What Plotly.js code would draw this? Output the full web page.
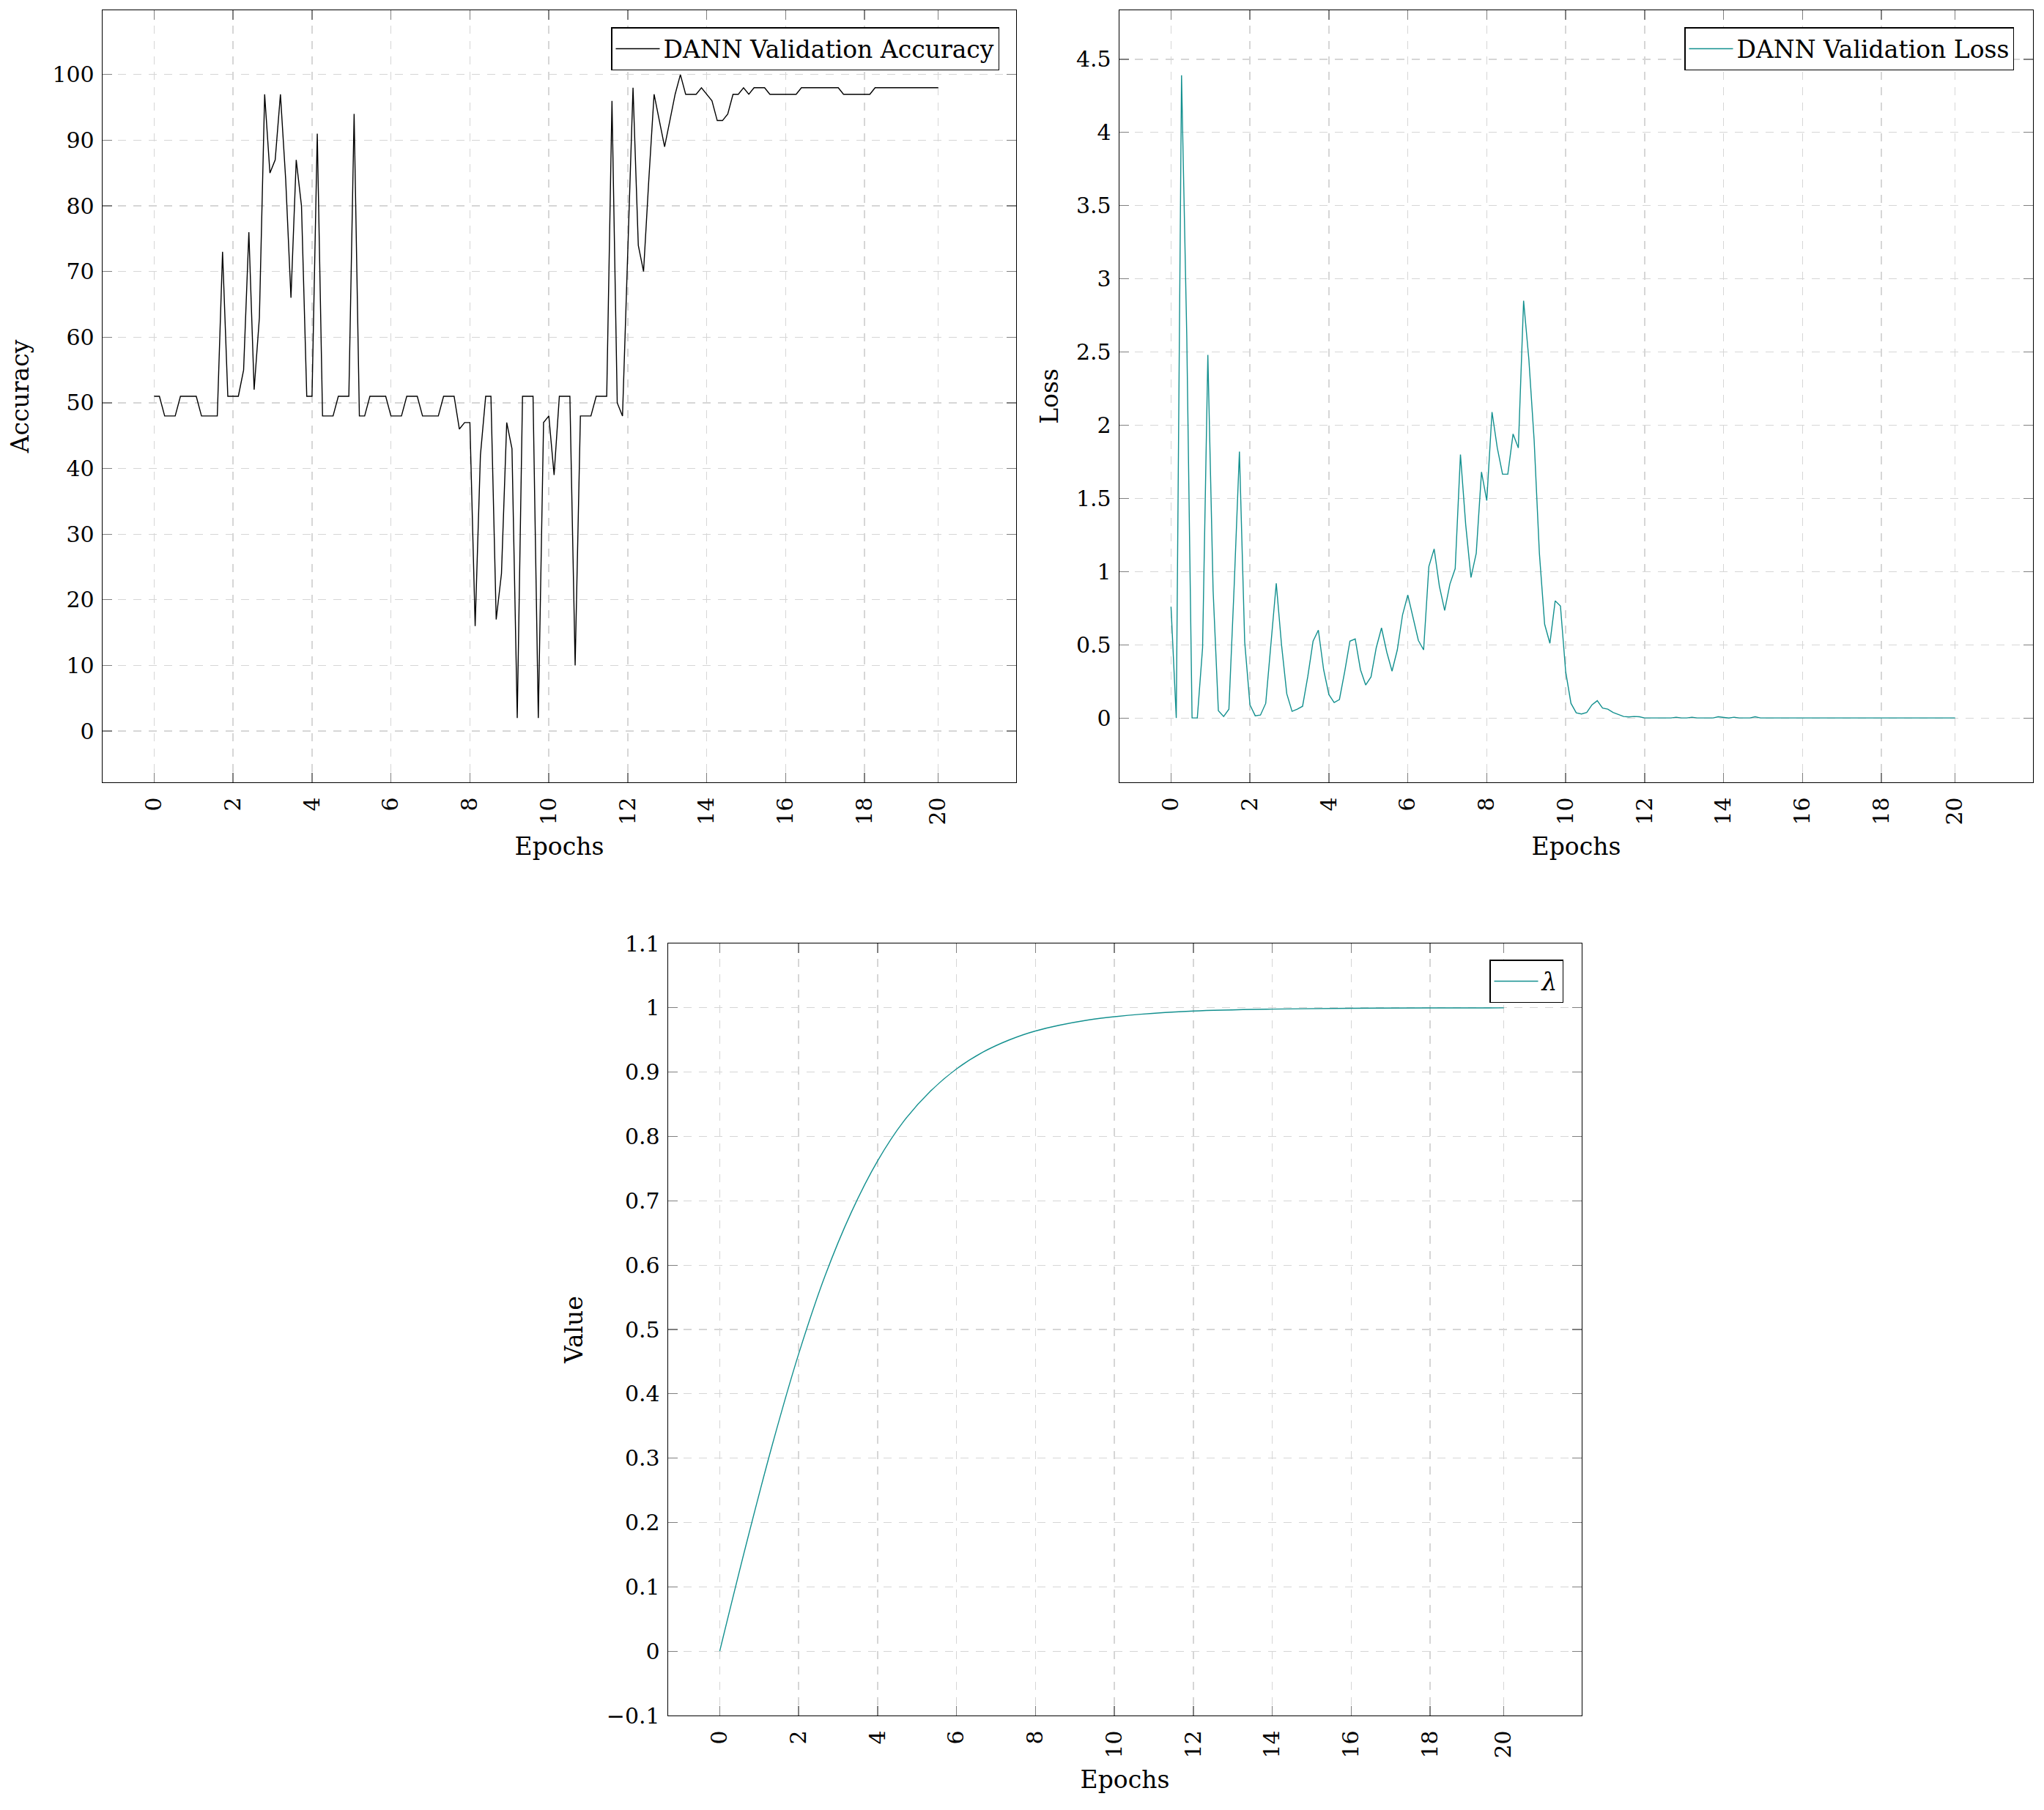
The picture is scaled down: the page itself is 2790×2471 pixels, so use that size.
<!DOCTYPE html>
<html><head><meta charset="utf-8">
<script src="https://cdn.plot.ly/plotly-3.0.1.min.js"></script>
<style>html,body{margin:0;padding:0;background:#fff;} #chart{width:2790px;height:2471px;}</style>
</head><body><div id="chart"></div>
<script>
// x positions are sample indices (150 validation checks); tick labels are epochs
const epochTickPositions = [0,15,30,45,60,75,90,105,120,135,149];
const epochTickLabels = ['0','2','4','6','8','10','12','14','16','18','20'];

const accuracy = [
 51,51,48,48,48,51,51,51,51,48,
 48,48,48,73,51,51,51,55,76,52,
 63,97,85,87,97,84,66,87,80,51,
 51,91,48,48,48,51,51,51,94,48,
 48,51,51,51,51,48,48,48,51,51,
 51,48,48,48,48,51,51,51,46,47,
 47,16,42,51,51,17,24,47,43,2,
 51,51,51,2,47,48,39,51,51,51,
 10,48,48,48,51,51,51,96,50,48,
 72,98,74,70,84,97,93,89,93,97,
 100,97,97,97,98,97,96,93,93,94,
 97,97,98,97,98,98,98,97,97,97,
 97,97,97,98,98,98,98,98,98,98,
 98,97,97,97,97,97,97,98,98,98,
 98,98,98,98,98,98,98,98,98,98];

const loss = [
 0.76,0.0,4.39,2.6,0.0,0.0,0.48,2.48,0.87,0.05,
 0.01,0.06,0.9,1.82,0.52,0.09,0.015,0.02,0.1,0.5,
 0.92,0.5,0.165,0.045,0.06,0.08,0.285,0.525,0.6,0.33,
 0.16,0.105,0.126,0.315,0.525,0.54,0.33,0.225,0.28,0.48,
 0.615,0.45,0.32,0.465,0.705,0.84,0.69,0.53,0.465,1.035,
 1.155,0.9,0.735,0.915,1.02,1.8,1.32,0.96,1.125,1.68,
 1.485,2.09,1.845,1.665,1.665,1.94,1.845,2.85,2.45,1.9,
 1.125,0.64,0.51,0.8,0.765,0.315,0.1,0.035,0.027,0.038,
 0.09,0.118,0.068,0.06,0.038,0.022,0.01,0.007,0.01,0.008,
 0,0,0,0,0,0,0.005,0,0,0.005,
 0,0,0,0,0.008,0.003,0,0.005,0,0,
 0,0.008,0,0,0,0,0,0,0,0,
 0,0,0,0,0,0,0,0,0,0,
 0,0,0,0,0,0,0,0,0,0,
 0,0,0,0,0,0,0,0,0,0];

const lambdaIndex = [0,5,10,15,20,25,30,35,40,45,50,55,60,70,80,90,105,120,135,149];
const lambdaValues = [0,0.165,0.321,0.462,0.583,0.682,0.762,0.824,0.870,0.905,0.931,0.950,0.964,0.981,0.990,0.995,0.998,0.9993,0.9998,0.9999];

const FONT = 'DejaVu Serif, Liberation Serif, serif';
const TEAL = '#13908f';

function xAxis(anchor, domain) {
  return {
    domain: domain, anchor: anchor, range: [-9.8, 163.8],
    tickmode: 'array', tickvals: epochTickPositions, ticktext: epochTickLabels,
    tickangle: -90, ticklabelstandoff: 7,
    showline: true, linecolor: '#000', linewidth: 1.3, mirror: 'ticks',
    ticks: 'inside', ticklen: 13, tickcolor: '#808080', tickwidth: 1.3,
    showgrid: true, gridcolor: '#d6d6d6', gridwidth: 1.3, griddash: '11px,10px',
    zeroline: false, tickfont: {family: FONT, size: 30, color: '#000'},
    title: {text: 'Epochs', font: {family: FONT, size: 33, color: '#000'}, standoff: 18}
  };
}
function yAxis(anchor, domain, range, dtick, title, standoff) {
  return {
    domain: domain, anchor: anchor, range: range, dtick: dtick, tick0: 0,
    showline: true, linecolor: '#000', linewidth: 1.3, mirror: 'ticks',
    ticks: 'inside', ticklen: 13, tickcolor: '#808080', tickwidth: 1.3,
    ticklabelstandoff: 4,
    showgrid: true, gridcolor: '#d6d6d6', gridwidth: 1.3, griddash: '11px,10px',
    zeroline: false, tickfont: {family: FONT, size: 30, color: '#000'},
    title: {text: title, font: {family: FONT, size: 33, color: '#000'}, standoff: standoff}
  };
}
function legendBox(x, y) {
  return {x: x, y: y, xanchor: 'right', yanchor: 'top', bgcolor: '#fff',
    bordercolor: '#000', borderwidth: 1.5, itemwidth: 60,
    font: {family: FONT, size: 33, color: '#000'}};
}

const traces = [
  {type: 'scatter', mode: 'lines', y: accuracy, x0: 0, dx: 1, xaxis: 'x', yaxis: 'y',
   name: 'DANN Validation Accuracy', legend: 'legend', line: {color: '#000', width: 1.4}},
  {type: 'scatter', mode: 'lines', y: loss, x0: 0, dx: 1, xaxis: 'x2', yaxis: 'y2',
   name: 'DANN Validation Loss', legend: 'legend2', line: {color: TEAL, width: 1.4}},
  {type: 'scatter', mode: 'lines', x: lambdaIndex, y: lambdaValues, xaxis: 'x3', yaxis: 'y3',
   name: '<i>λ</i>', legend: 'legend3', line: {color: TEAL, width: 1.4, shape: 'spline'}}
];

const layout = {
  width: 2790, height: 2471, margin: {l: 0, r: 0, t: 0, b: 0},
  paper_bgcolor: '#fff', plot_bgcolor: '#fff', font: {family: FONT, color: '#000'},
  showlegend: true,
  xaxis: xAxis('y', [140/2790, 1387/2790]),
  yaxis: yAxis('x', [1 - 1068/2471, 1 - 14/2471], [-7.8, 109.8], 10, 'Accuracy', 22),
  xaxis2: xAxis('y2', [1528/2790, 2775/2790]),
  yaxis2: yAxis('x2', [1 - 1068/2471, 1 - 14/2471], [-0.4395, 4.8345], 0.5, 'Loss', 14),
  xaxis3: xAxis('y3', [912/2790, 2159/2790]),
  yaxis3: yAxis('x3', [1 - 2342/2471, 1 - 1288/2471], [-0.1, 1.1], 0.1, 'Value', 22),
  legend: legendBox(1364/2790, 1 - 37/2471),
  legend2: legendBox(2749/2790, 1 - 37/2471),
  legend3: legendBox(2134/2790, 1 - 1310/2471)
};

Plotly.newPlot('chart', traces, layout, {staticPlot: true});
</script>
</body></html>
